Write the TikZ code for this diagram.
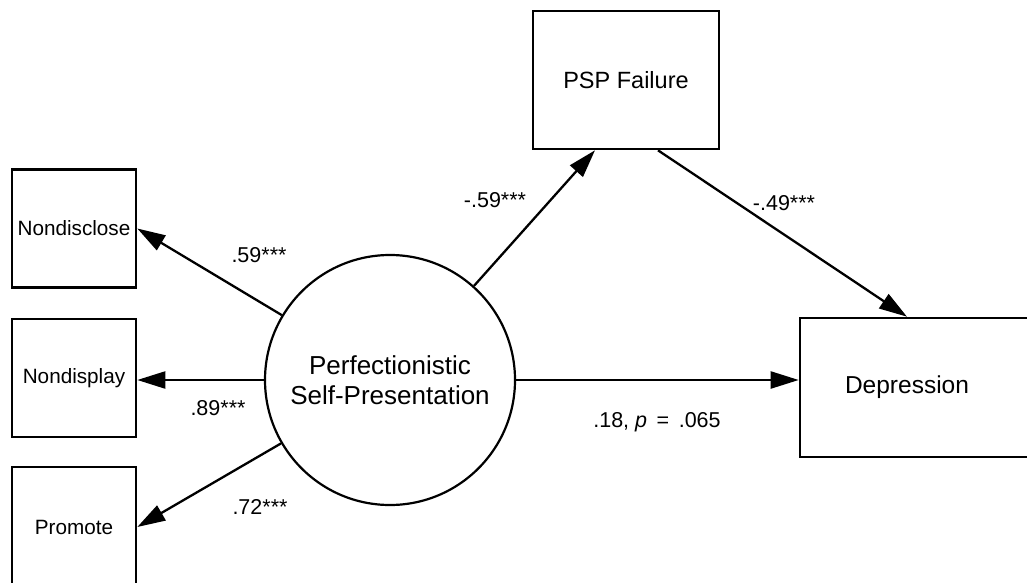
\documentclass[tikz,border=0pt]{standalone}
\usepackage{fontspec}
\setmainfont{Liberation Sans}
\usetikzlibrary{arrows.meta,calc}
\begin{document}
\begin{tikzpicture}[x=1pt,y=-1pt,
  box/.style={draw,line width=2.6pt,inner sep=0pt,font=\fontsize{20.7}{24}\selectfont},
  bigbox/.style={box,font=\fontsize{23.5}{28}\selectfont},
  latent/.style={draw,circle,line width=2.2pt,minimum size=250pt,inner sep=0pt,align=center,
    font=\fontsize{26}{30}\selectfont},
  path/.style={line width=2.3pt,-{Triangle[length=28pt,width=17pt]}},
  coef/.style={inner sep=0pt,font=\fontsize{21.5}{24}\selectfont}]
\useasboundingbox (0,0) rectangle (1027,583);
\clip (0,0) rectangle (1027,583);

% observed indicators
\node[box,minimum width=124pt,minimum height=118pt] (ndc) at (74,228.5) {Nondisclose};
\node[box,minimum width=124pt,minimum height=118pt] (ndp) at (74,378) {Nondisplay};
\node[box,minimum width=124pt,minimum height=120pt] (pro) at (74,527) {Promote};

% latent factor
\node[latent] (psp) at (390,380) {Perfectionistic\\Self-Presentation};

% mediator and outcome
\node[bigbox,minimum width=186pt,minimum height=138pt] (fail) at (626,80) {PSP Failure};
\node[box,minimum width=240pt,minimum height=139pt,
  label={[xshift=-13pt,font=\fontsize{24.5}{28}\selectfont]center:Depression}] (dep) at (920,387.5) {};

% loadings
\draw[path] (psp) -- (ndc.east);
\draw[path] (psp.west) -- (psp.west -| ndp.east);
\draw[path] (psp) -- (pro.east);

% structural paths
\draw[path] (psp) -- ([xshift=-31pt]fail.south);
\draw[path] ([xshift=32pt]fail.south) -- ([xshift=-13pt]dep.north);
\draw[path] (psp.east) -- (psp.east -| dep.west);

% coefficients
\node[coef] (c1) at (259,255) {.59***};
\node[coef] (c2) at (218,408) {.89***};
\node[coef] (c3) at (260,507) {.72***};
\node[coef] (c4) at (495,200) {-.59***};
\node[coef] (c5) at (784,203) {-.49***};
\node[coef] (c6) at (657,422) {.18, \textit{p} \,=\, .065};
\end{tikzpicture}
\end{document}
